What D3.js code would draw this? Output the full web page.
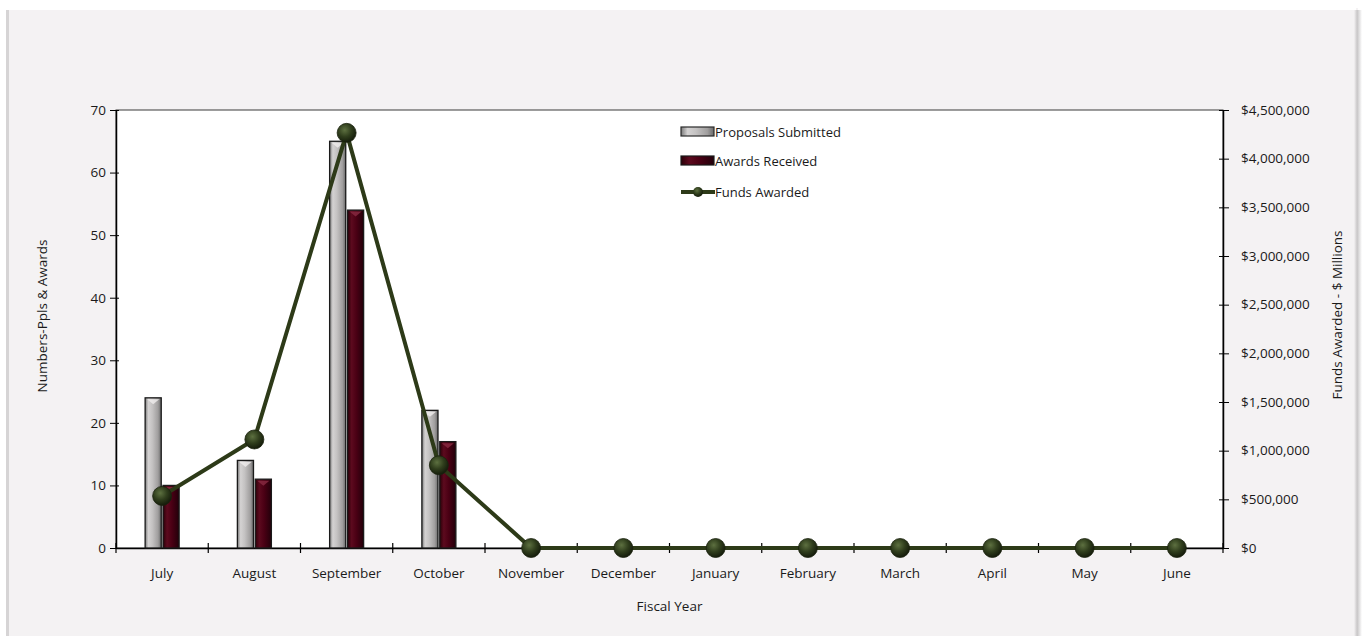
<!DOCTYPE html>
<html>
<head>
<meta charset="utf-8">
<script src="https://cdn.jsdelivr.net/npm/d3@7"></script>
<style>
  body { margin: 0; background: #ffffff; }
  #chart { width: 1365px; height: 636px; }
  text { font-family: 'Open Sans', 'Noto Sans', sans-serif; fill: #1a1a1a; }
</style>
</head>
<body>
<div id="chart"></div>
<script>
const months = ['July','August','September','October','November','December',
                'January','February','March','April','May','June'];
const proposals = [24, 14, 65, 22, null, null, null, null, null, null, null, null];
const awards = [10, 11, 54, 17, null, null, null, null, null, null, null, null];
const funds = [535000, 1115000, 4265000, 850000, 0, 0, 0, 0, 0, 0, 0, 0];
const countTicks = [0, 10, 20, 30, 40, 50, 60, 70];
const fundTicks = [0, 500000, 1000000, 1500000, 2000000, 2500000, 3000000, 3500000, 4000000, 4500000];
const seriesNames = ['Proposals Submitted', 'Awards Received', 'Funds Awarded'];

class Chart{
  constructor(opts){
    this.element = opts.element;
  }

  draw(){
    this.width = 1365;
    this.height = 636;
    this.margin = { top: 110, bottom: 88, left: 116, right: 142 };

    this.element.innerHTML = '';
    this.svg = d3.select(this.element).append('svg')
                 .attr('width', this.width)
                 .attr('height', this.height);

    this.addDefs();
    this.addFrame();
    this.createScales();
    this.addAxes();
    this.addBars();
    this.addLine();
    this.addLegend();
  }

  addDefs(){
    const defs = this.svg.append('defs');

    const gray = defs.append('linearGradient').attr('id', 'gGray');
    [['0%','#7a7a7a'],['20%','#d4d2d2'],['45%','#c4c2c2'],['80%','#a09e9e'],['100%','#6a6a6a']]
      .forEach(s => gray.append('stop').attr('offset', s[0]).attr('stop-color', s[1]));

    const red = defs.append('linearGradient').attr('id', 'gRed');
    [['0%','#2a0008'],['25%','#5c0a1e'],['55%','#4a0014'],['100%','#22000a']]
      .forEach(s => red.append('stop').attr('offset', s[0]).attr('stop-color', s[1]));

    const ball = defs.append('radialGradient').attr('id', 'gBall')
                     .attr('cx', '40%').attr('cy', '35%').attr('r', '65%');
    [['0%','#5d7040'],['55%','#2f3d1c'],['100%','#151c0b']]
      .forEach(s => ball.append('stop').attr('offset', s[0]).attr('stop-color', s[1]));

    const shade = defs.append('linearGradient').attr('id', 'gShade');
    [['0%','#f4f2f3'],['40%','#c8c6c7'],['100%','#ffffff']]
      .forEach(s => shade.append('stop').attr('offset', s[0]).attr('stop-color', s[1]));
  }

  addFrame(){
    // outer chart area with soft edge shadows
    this.svg.append('rect')
            .attr('x', 6).attr('y', 8)
            .attr('width', 1352).attr('height', 628)
            .attr('fill', '#f4f2f3');
    this.svg.append('rect')
            .attr('x', 6).attr('y', 8).attr('width', 3).attr('height', 628)
            .attr('fill', '#d6d4d5');
    this.svg.append('rect')
            .attr('x', 1354).attr('y', 10).attr('width', 8).attr('height', 626)
            .attr('fill', 'url(#gShade)');
    this.svg.append('rect')
            .attr('x', 6).attr('y', 8).attr('width', 1350).attr('height', 2)
            .attr('fill', '#ffffff');

    const m = this.margin;
    this.svg.append('rect')
            .attr('x', m.left).attr('y', m.top)
            .attr('width', this.width - m.left - m.right)
            .attr('height', this.height - m.top - m.bottom)
            .attr('fill', '#ffffff')
            .attr('stroke', '#3a3a3a')
            .attr('stroke-width', 1);

    this.plot = this.svg.append('g')
                    .attr('transform', `translate(${m.left},${m.top})`);
  }

  createScales(){
    const m = this.margin;
    this.w = this.width - m.left - m.right;
    this.h = this.height - m.top - m.bottom;

    this.xScale = d3.scaleBand().domain(months).range([0, this.w]).padding(0);
    const bw = this.xScale.bandwidth();
    this.xSub = d3.scaleBand().domain(['p', 'a'])
                  .range([bw / 2 - 17, bw / 2 + 17]).paddingInner(0.1);

    this.yScale = d3.scaleLinear().domain([0, 70]).range([this.h, 0]);
    this.y2Scale = d3.scaleLinear().domain([0, 4500000]).range([this.h, 0]);
  }

  addAxes(){
    const fs = '13.5px';
    const xAxis = d3.axisBottom(this.xScale).tickSize(0).tickPadding(20);
    const gx = this.plot.append('g')
             .attr('class', 'x axis')
             .attr('transform', `translate(0, ${this.h})`)
             .call(xAxis);
    gx.select('.domain').attr('stroke', '#000').attr('stroke-width', 1.5);
    gx.selectAll('text').style('font-size', fs);

    // category separator ticks crossing the axis
    const seps = d3.range(months.length + 1).map(i => i * this.xScale.step());
    gx.selectAll('.sep').data(seps).join('line')
      .attr('class', 'sep')
      .attr('x1', d => d).attr('x2', d => d)
      .attr('y1', -5).attr('y2', 5)
      .attr('stroke', '#000').attr('stroke-width', 1.2);

    const yAxis = d3.axisLeft(this.yScale).tickValues(countTicks)
                    .tickSizeInner(6).tickSizeOuter(0).tickPadding(4);
    const gy = this.plot.append('g').attr('class', 'y axis').call(yAxis);
    gy.select('.domain').attr('stroke', '#000').attr('stroke-width', 1.5);
    gy.selectAll('.tick line').attr('x2', -6).attr('x1', 3).attr('stroke', '#000');
    gy.selectAll('text').style('font-size', fs);

    const y2Axis = d3.axisRight(this.y2Scale).tickValues(fundTicks)
                     .tickSizeInner(6).tickSizeOuter(0).tickPadding(12)
                     .tickFormat(d => '$' + d3.format(',')(d));
    const gy2 = this.plot.append('g').attr('class', 'y2 axis')
                    .attr('transform', `translate(${this.w}, 0)`)
                    .call(y2Axis);
    gy2.select('.domain').attr('stroke', '#000').attr('stroke-width', 1.5);
    gy2.selectAll('.tick line').attr('x1', -4).attr('x2', 6).attr('stroke', '#000');
    gy2.selectAll('text').style('font-size', fs);

    this.plot.append('text')
             .attr('transform', `translate(${47 - this.margin.left}, 206) rotate(-90)`)
             .attr('text-anchor', 'middle')
             .style('font-size', fs)
             .text('Numbers-Ppls & Awards');

    this.plot.append('text')
             .attr('transform', `translate(${1342 - this.margin.left}, 205) rotate(-90)`)
             .attr('text-anchor', 'middle')
             .style('font-size', fs)
             .text('Funds  Awarded - $ Millions');

    this.plot.append('text')
             .attr('x', this.w / 2)
             .attr('y', this.h + 63)
             .attr('text-anchor', 'middle')
             .style('font-size', fs)
             .text('Fiscal Year');
  }

  addBars(){
    const rows = months.map((mo, i) => ({ month: mo, p: proposals[i], a: awards[i] }));
    const groups = this.plot.append('g').selectAll('g')
                       .data(rows).join('g')
                       .attr('transform', d => `translate(${this.xScale(d.month)},0)`);

    const keys = [['p', 'url(#gGray)', '#f0eeee'], ['a', 'url(#gRed)', '#8a2a42']];
    keys.forEach(k => {
      const data = groups.filter(d => d[k[0]] != null);
      data.append('rect')
          .attr('x', this.xSub(k[0]))
          .attr('y', d => this.yScale(d[k[0]]))
          .attr('width', this.xSub.bandwidth())
          .attr('height', d => this.h - this.yScale(d[k[0]]))
          .attr('fill', k[1])
          .attr('stroke', '#1a1a1a')
          .attr('stroke-width', 1.3);
      // small bevel at the top of each bar
      data.append('path')
          .attr('d', d => {
            const x0 = this.xSub(k[0]) + 2, x1 = x0 + this.xSub.bandwidth() - 4;
            const y = this.yScale(d[k[0]]) + 1.5;
            return `M${x0},${y} L${x1},${y} L${(x0 + x1) / 2},${y + 5} Z`;
          })
          .attr('fill', k[2])
          .attr('opacity', 0.8);
    });
  }

  addLine(){
    const cx = d => this.xScale(d.month) + this.xScale.bandwidth() / 2;
    const pts = months.map((mo, i) => ({ month: mo, v: funds[i] }));
    const line = d3.line().x(cx).y(d => this.y2Scale(d.v));

    this.plot.append('path')
             .datum(pts)
             .attr('d', line)
             .attr('fill', 'none')
             .attr('stroke', '#2d3a18')
             .attr('stroke-width', 4)
             .attr('stroke-linejoin', 'round');

    this.plot.append('g').selectAll('circle')
             .data(pts).join('circle')
             .attr('cx', cx)
             .attr('cy', d => this.y2Scale(d.v))
             .attr('r', 9.5)
             .attr('fill', 'url(#gBall)')
             .attr('stroke', '#1a220e')
             .attr('stroke-width', 0.8);
  }

  addLegend(){
    const lg = this.svg.append('g').attr('transform', 'translate(681,0)');
    const ys = [132, 161, 192];

    lg.append('rect').attr('x', 0).attr('y', ys[0] - 5).attr('width', 33).attr('height', 9)
      .attr('fill', 'url(#gGray)').attr('stroke', '#2a2a2a').attr('stroke-width', 1.2);
    lg.append('rect').attr('x', 0).attr('y', ys[1] - 5).attr('width', 33).attr('height', 9)
      .attr('fill', 'url(#gRed)').attr('stroke', '#1a1a1a').attr('stroke-width', 1.2);
    lg.append('line').attr('x1', 0).attr('x2', 34).attr('y1', ys[2]).attr('y2', ys[2])
      .attr('stroke', '#2d3a18').attr('stroke-width', 4);
    lg.append('circle').attr('cx', 17).attr('cy', ys[2]).attr('r', 5)
      .attr('fill', 'url(#gBall)');

    lg.selectAll('.lab').data(seriesNames).join('text')
      .attr('class', 'lab')
      .attr('x', 34)
      .attr('y', (d, i) => ys[i])
      .attr('dy', '0.35em')
      .style('font-size', '13px')
      .text(d => d);
  }
}

const chart = new Chart({ element: document.getElementById('chart') });
chart.draw();
</script>
</body>
</html>
